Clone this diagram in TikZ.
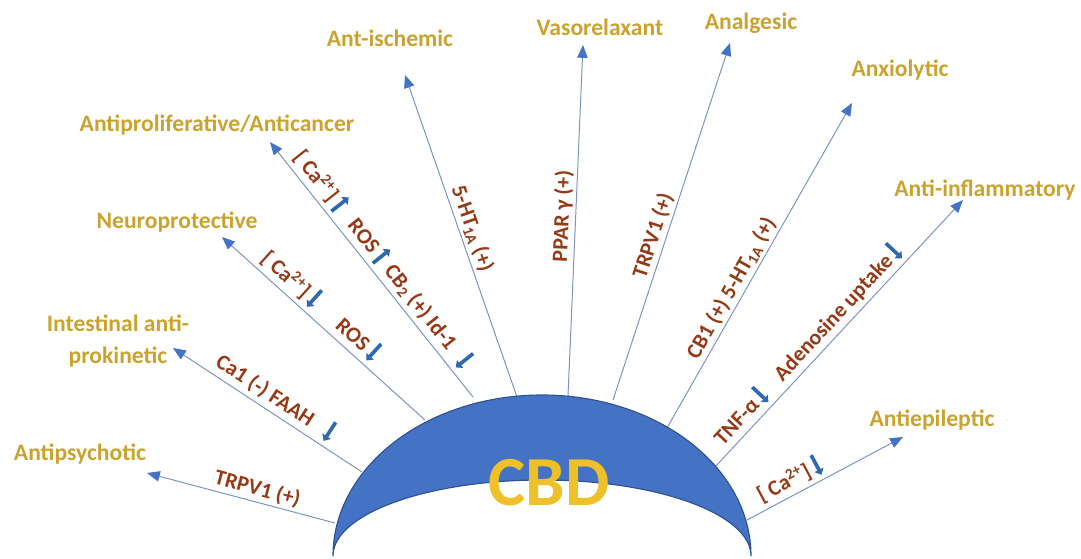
\documentclass[tikz,border=0pt]{standalone}
\usepackage{fontspec}
\setmainfont{Carlito}
\usetikzlibrary{arrows.meta}
\definecolor{cbdBlue}{HTML}{4472C4}
\definecolor{cbdEdge}{HTML}{2F528F}
\definecolor{cbdGold}{HTML}{C9A32E}
\definecolor{cbdYellow}{HTML}{EEC02A}
\definecolor{mechRed}{HTML}{943A16}
\definecolor{rayLine}{HTML}{7A93C2}
\definecolor{tickBlue}{HTML}{2E68B0}
\newcommand{\arrdown}{\tikz[baseline=0pt]\draw[tickBlue, line width=2.6pt, -{Triangle[length=4pt,width=7pt]}] (0,1.8ex) -- (0,-0.3ex);}
\newcommand{\arrup}{\tikz[baseline=0pt]\draw[tickBlue, line width=2.6pt, -{Triangle[length=4pt,width=7pt]}] (0,-0.3ex) -- (0,1.8ex);}

\begin{document}
\begin{tikzpicture}[
    x=0.025cm, y=-0.025cm,
    ray/.style={draw=rayLine, line width=0.7pt, -{Triangle[length=3.2mm,width=2.6mm,color=cbdBlue]}},
    effect/.style={font=\fontsize{16.8}{22.7}\selectfont\bfseries, text=cbdGold, inner sep=0pt},
    mech/.style={font=\fontsize{15.5}{17}\selectfont\bfseries, text=mechRed, sloped, above, inner sep=2pt},
  ]
  \useasboundingbox (0,0) rectangle (1081,559);
  % outcomes
  \node[effect] (psych) at (80,454) {Antipsychotic};
  \node[effect, align=center] (intest) at (118,341) {Intestinal anti-\\prokinetic};
  \node[effect] (neuro) at (177,222) {Neuroprotective};
  \node[effect] (prolif) at (217,125) {Antiproliferative/Anticancer};
  \node[effect] (ischem) at (390,38) {Ant-ischemic};
  \node[effect] (vaso) at (600,27) {Vasorelaxant};
  \node[effect] (analg) at (751,23) {Analgesic};
  \node[effect] (anxio) at (900,70) {Anxiolytic};
  \node[effect] (inflam) at (985,190) {Anti-inflammatory};
  \node[effect] (epil) at (932,420) {Antiepileptic};
  % ray ends
  \coordinate (s1) at (335,523);  \coordinate (t1) at (147,473);
  \coordinate (s2) at (362,472);  \coordinate (t2) at (173,348);
  \coordinate (s3) at (425,420);  \coordinate (t3) at (222,237);
  \coordinate (s4) at (473,397);  \coordinate (t4) at (270,142);
  \coordinate (s5) at (517,397);  \coordinate (t5) at (405,75);
  \coordinate (s6) at (568,396);  \coordinate (t6) at (583,45);
  \coordinate (s7) at (613,400);  \coordinate (t7) at (730,43);
  \coordinate (s8) at (667,428);  \coordinate (t8) at (852,103);
  \coordinate (s9) at (715,467);  \coordinate (t9) at (963,200);
  \coordinate (s10) at (747,520); \coordinate (t10) at (903,437);
  % rays with targets
  \draw[ray] (s1) -- node[mech, pos=0.43] {TRPV1 (+)} (t1);
  \draw[ray] (s2) -- node[mech, pos=0.50] {Ca1 (-) FAAH\hspace{0.7em}\arrdown} (t2);
  \draw[ray] (s3) -- node[mech, pos=0.71] {[ Ca\textsuperscript{2+}]\,\arrdown}
                     node[mech, pos=0.38] {ROS\,\arrdown} (t3);
  \draw[ray] (s4) -- node[mech, pos=0.81] {[ Ca\textsuperscript{2+}]\,\arrup}
                     node[mech, pos=0.575] {ROS\,\arrup}
                     node[mech, pos=0.28] {CB\textsubscript{2} (+) Id-1\hspace{0.6em}\arrdown} (t4);
  \draw[ray] (s5) -- node[mech, pos=0.51] {5-HT\textsubscript{1A} (+)} (t5);
  \draw[ray] (s6) -- node[mech, pos=0.51] {PPAR γ (+)} (t6);
  \draw[ray] (s7) -- node[mech, pos=0.45] {TRPV1 (+)} (t7);
  \draw[ray] (s8) -- node[mech, pos=0.41] {CB1 (+) 5-HT\textsubscript{1A} (+)} (t8);
  \draw[ray] (s9) -- node[mech, pos=0.15] {TNF-α\,\arrdown}
                     node[mech, pos=0.54] {Adenosine uptake\,\arrdown} (t9);
  \draw[ray] (s10) -- node[mech, pos=0.32] {[ Ca\textsuperscript{2+}]\,\arrdown} (t10);
  % crescent
  \filldraw[fill=cbdBlue, draw=cbdEdge, line width=0.8pt]
    (333,556) arc[start angle=180, end angle=360, x radius=209, y radius=161]
    arc[start angle=0, end angle=-180, x radius=209, y radius=76] -- cycle;
  \node[font=\fontsize{50}{50}\selectfont\bfseries, text=cbdYellow] (cbd) at (549,483) {CBD};
\end{tikzpicture}
\end{document}
